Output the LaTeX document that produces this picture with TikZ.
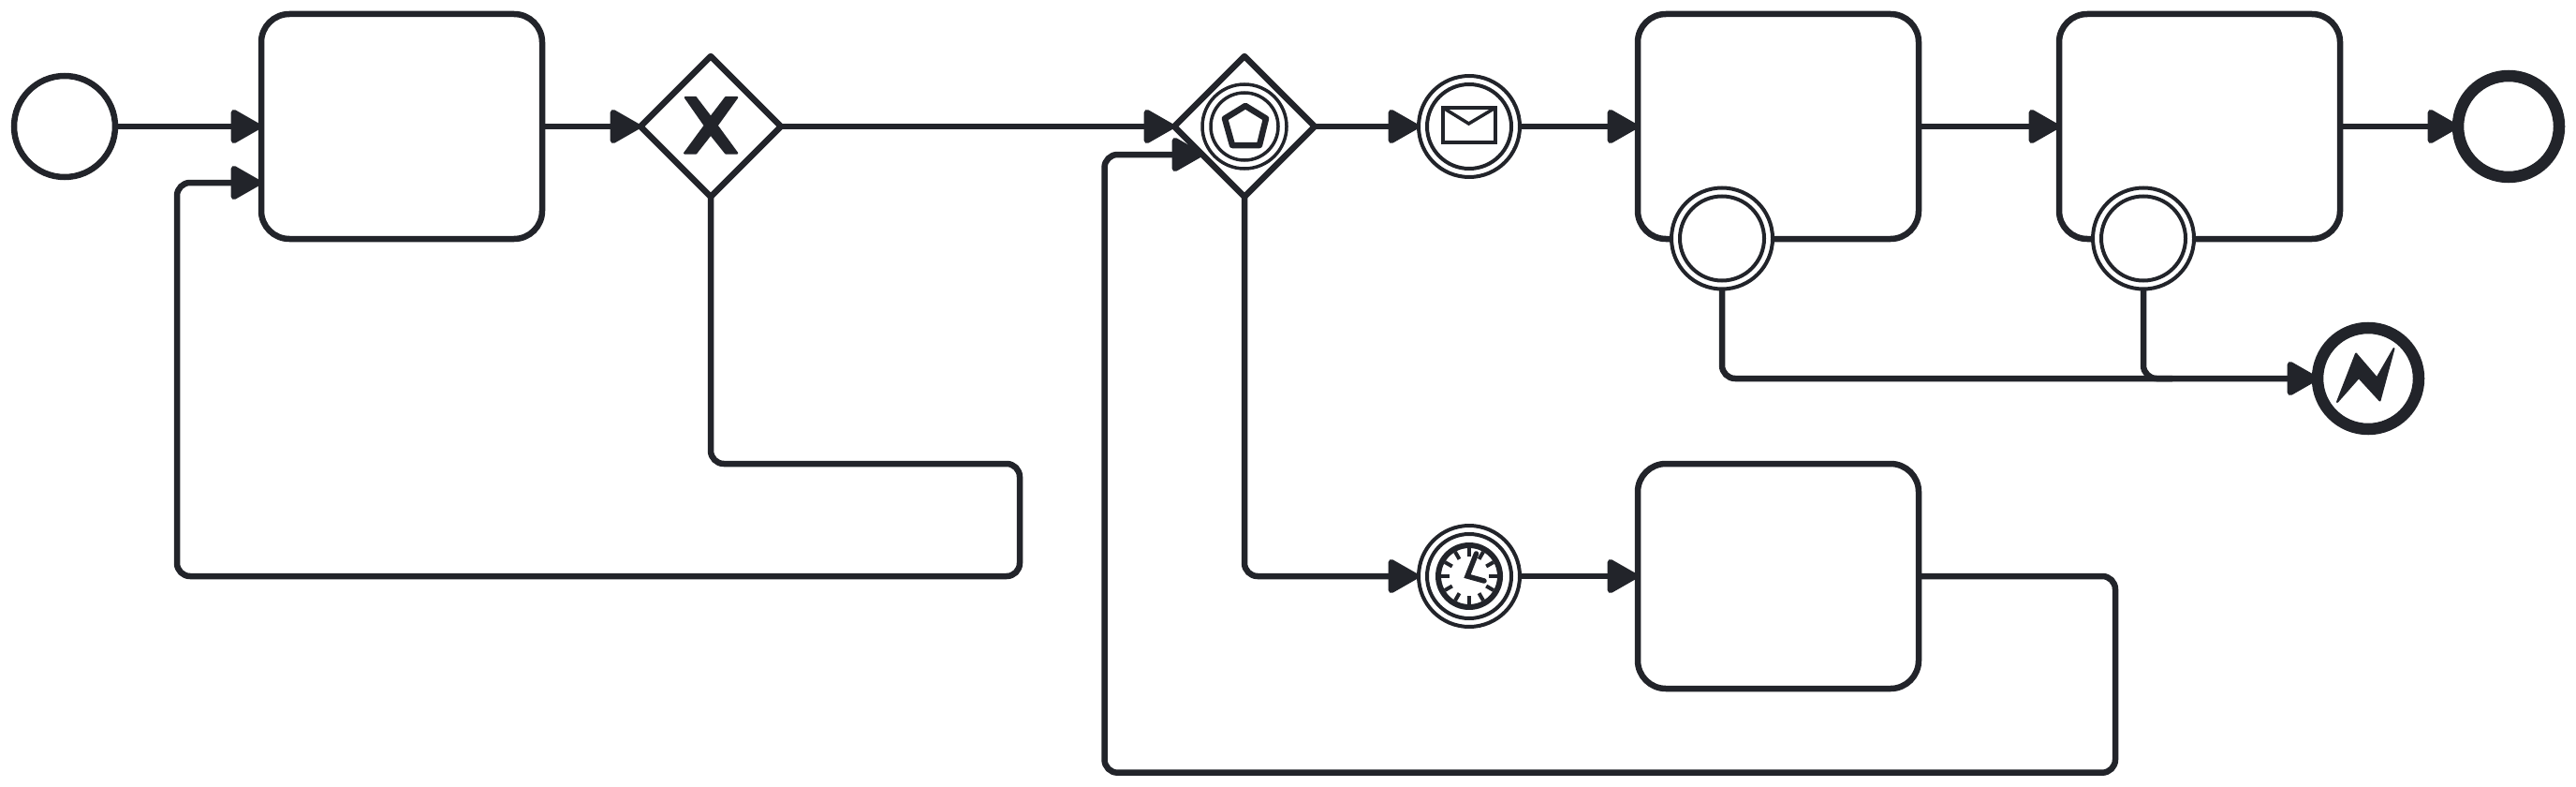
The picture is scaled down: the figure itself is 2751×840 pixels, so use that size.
\documentclass[tikz,border=0pt]{standalone}
\usetikzlibrary{arrows.meta,shapes.geometric}
\definecolor{ink}{HTML}{22242A}
\tikzset{
  base/.style={draw=ink,fill=white,inner sep=0pt,outer sep=0pt,line width=6.5pt},
  task/.style={base,rectangle,rounded corners=30pt,minimum width=300pt,minimum height=240pt},
  gateway/.style={base,diamond,aspect=1,minimum width=150pt,minimum height=150pt,line join=round},
  startev/.style={base,circle,minimum size=108pt},
  endev/.style={base,circle,minimum size=108pt,line width=12.5pt},
  interev/.style={base,circle,minimum size=108pt,line width=4pt},
  ring/.style={draw=ink,line width=4pt},
  flow/.style={draw=ink,line width=6.5pt,rounded corners=14pt,line join=round,
    -{Triangle[length=36pt,width=39pt,round]}},
  plainflow/.style={draw=ink,line width=6.5pt,rounded corners=14pt},
  glyph/.style={fill=ink,draw=ink,line width=2pt,line join=round},
  tick/.style={draw=ink,line width=4pt},
  hand/.style={draw=ink,line width=5.5pt,line cap=round}
}
\begin{document}
\begin{tikzpicture}[x=1pt,y=-1pt]
\useasboundingbox (0,0) rectangle (2751,840);
% nodes
\node[startev] (start) at (69,135) {};
\node[task] (t1) at (429,135) {};
\node[gateway] (g1) at (759,135) {};
\node[gateway] (g2) at (1329,135) {};
\node[interev] (msg) at (1569,135) {};
\node[task] (t2) at (1899,135) {};
\node[task] (t3) at (2349,135) {};
\node[endev] (end) at (2679,135) {};
\node[interev] (b1) at (1839,254.5) {};
\node[interev] (b2) at (2289,254.5) {};
\node[endev] (err) at (2529,404) {};
\node[interev] (timer) at (1569,615) {};
\node[task] (t4) at (1899,615) {};
\coordinate (t1in) at (279,195);
\coordinate (g2in) at (1284,165);
% inner rings
\draw[ring] (msg.center) circle[radius=45pt];
\draw[ring] (b1.center) circle[radius=45pt];
\draw[ring] (b2.center) circle[radius=45pt];
\draw[ring] (timer.center) circle[radius=45pt];
\draw[ring,line width=3.5pt] (g2.center) circle[radius=45pt];
\draw[ring,line width=3.5pt] (g2.center) circle[radius=36pt];
% gateway X
\draw[glyph,line width=2pt] (731.7,104) -- (743,104) -- (759,125) -- (775,104) -- (787.3,104) -- (765.7,134) -- (787.3,163.5) -- (775,163.5) -- (759,143.5) -- (743.3,163.5) -- (731,163.5) -- (752.7,134) -- cycle;
% pentagon
\draw[draw=ink,line width=6.5pt,line join=round] (1330,113) -- (1352,126.5) -- (1345,155) -- (1316,155) -- (1308,126.5) -- cycle;
% envelope
\draw[draw=ink,line width=4pt] (1541,115) rectangle (1597,152);
\draw[draw=ink,line width=3.5pt] (1541,115) -- (1568.5,132) -- (1597,115);
% clock
\draw[draw=ink,line width=6pt] (timer.center) circle[radius=33pt];
\foreach \a in {0,30,...,330}
  \draw[tick] ([shift={(\a:21pt)}]timer.center) -- ([shift={(\a:30pt)}]timer.center);
\draw[hand] (1576.5,591) -- (1567,615) -- (1585,620);
% lightning
\draw[glyph] (2496,429) -- (2516,377.5) -- (2538.3,403.5) -- (2556.5,372) -- (2541.5,427.5) -- (2519,403) -- cycle;
% connectors
\draw[flow] (start) -- (t1);
\draw[flow] (t1) -- (g1);
\draw[flow] (g1) -- (g2);
\draw[flow] (g2) -- (msg);
\draw[flow] (msg) -- (t2);
\draw[flow] (t2) -- (t3);
\draw[flow] (t3) -- (end);
\draw[flow] (timer) -- (t4);
\draw[flow] (g1.south) -- (759,495) -- (1089,495) -- (1089,615) -- (189,615) -- (189,195) -- (t1in);
\draw[flow] (g2.south) |- (timer.west);
\draw[flow] (t4.east) -- (2259,615) -- (2259,824.7) -- (1179.5,824.7) -- (1179.5,165) -- (g2in);
\draw[flow] (b1.south) |- (err.west);
\draw[plainflow] (b2.south) -- (2289,404) -- (2320,404);
\end{tikzpicture}
\end{document}
